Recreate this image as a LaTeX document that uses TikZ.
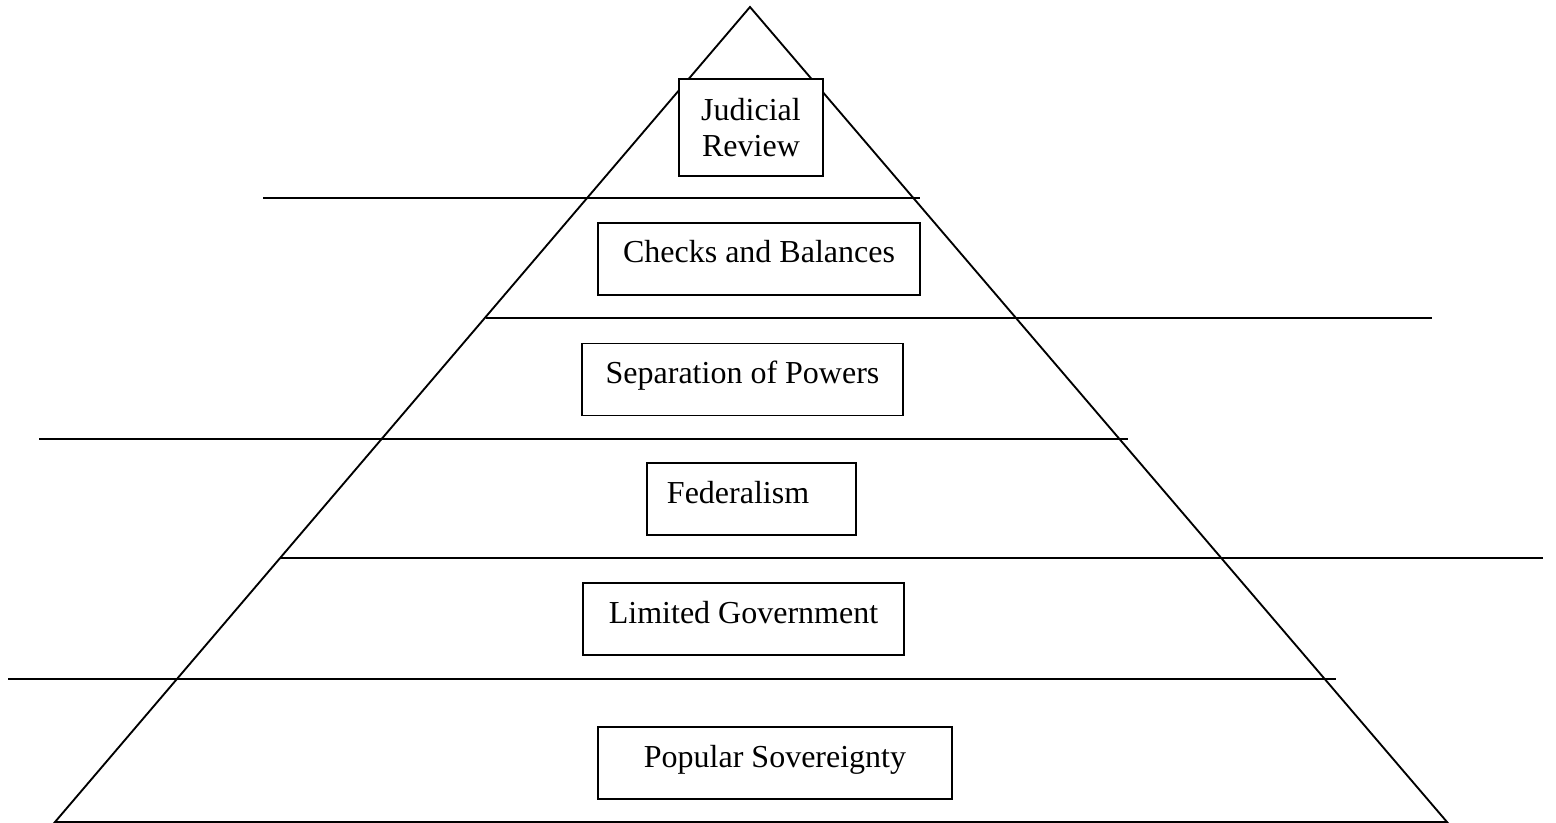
\documentclass[tikz,border=0pt]{standalone}
\usepackage{fontspec}
\setmainfont{Liberation Serif}
\usepackage{tikz}
\usetikzlibrary{positioning}
\tikzstyle{concept} = [rectangle, draw, fill=white, line width=0.6pt,
    inner xsep=0pt, inner ysep=0pt, text height=15pt, text depth=12pt]
\tikzstyle{apexbox} = [rectangle, draw, fill=white, line width=0.6pt,
    inner sep=0pt, minimum width=54pt, minimum height=36.4pt, align=center]
\tikzstyle{layer} = [draw, line width=0.75pt]
\tikzstyle{side} = [draw, line width=0.7pt]
\begin{document}
\begin{tikzpicture}[x=0.375pt, y=-0.375pt, font=\fontsize{12}{13.5}\selectfont]
  \useasboundingbox (0,0) rectangle (1556,823);
  % Pyramid
  \coordinate (apex) at (750,7);
  \coordinate (bl) at (55,822);
  \coordinate (br) at (1447,822);
  \path [side] (bl) -- (apex) -- (br) -- cycle;

  % Layer lines
  \foreach \y/\a/\b in {198.5/263/920, 318/486/1432, 438.5/39/1128,
                        558/280/1543, 678.5/8/1336}
    \path [layer] (\a,\y) -- (\b,\y);

  % Place nodes
  \node [apexbox] (judicial) at (751,127.5) {Judicial\\Review};
  \node [concept, minimum width=120.75pt] (checks) at (759,259) {Checks and Balances};
  \node [concept, minimum width=120.4pt] (separation) at (742.5,379.5) {Separation of Powers};
  \node [concept, inner xsep=7.5pt, text width=63.4pt, align=left] (federalism) at (751.5,499) {Federalism};
  \node [concept, minimum width=120.4pt] (limited) at (743.5,619) {Limited Government};
  \node [concept, minimum width=132.75pt] (popular) at (775,763) {Popular Sovereignty};

\end{tikzpicture}
\end{document}
